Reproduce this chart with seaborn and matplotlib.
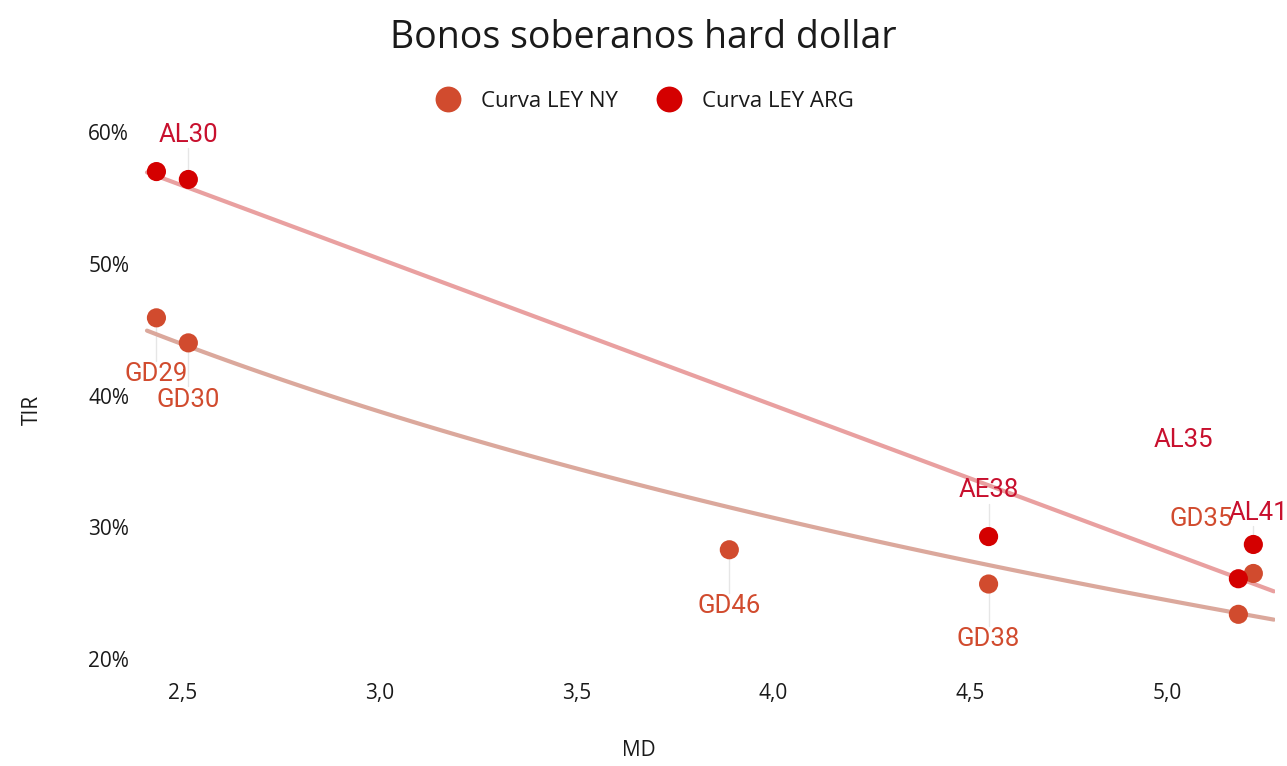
import numpy as np
import pandas as pd
import matplotlib
matplotlib.use("Agg")
import matplotlib.pyplot as plt
import seaborn as sns

# datos
ny_bonos = ["GD29", "GD30", "GD46", "GD38", "GD41", "GD35"]
ny_md = [2.434, 2.515, 3.888, 4.546, 5.180, 5.218]
ny_tir = [45.9, 44.0, 28.3, 25.7, 23.4, 26.5]

arg_bonos = ["AL29", "AL30", "AE38", "AL35", "AL41"]
arg_md = [2.434, 2.515, 4.546, 5.180, 5.218]
arg_tir = [57.0, 56.4, 29.3, 26.1, 28.7]

x_ticks = [2.5, 3.0, 3.5, 4.0, 4.5, 5.0]
y_ticks = [20, 30, 40, 50, 60]

c_ny = "#d14b2e"
c_arg = "#d40000"

df = pd.concat([
    pd.DataFrame({"Bono": ny_bonos, "MD": ny_md, "TIR": ny_tir, "Curva": "Curva LEY NY"}),
    pd.DataFrame({"Bono": arg_bonos, "MD": arg_md, "TIR": arg_tir, "Curva": "Curva LEY ARG"}),
], ignore_index=True)

sns.set_style("white")
plt.rcParams["font.family"] = ["Open Sans", "DejaVu Sans"]
plt.rcParams["text.color"] = "#1a1a1a"

fig = plt.figure(figsize=(12.87, 7.66), dpi=100)
ax = fig.add_axes([0.109, 0.112, 0.882, 0.738])
ax.set_xlim(2.41, 5.27)

# curvas de ajuste: lineal para ARG, logaritmica para NY
sns.regplot(data=df[df["Curva"] == "Curva LEY ARG"], x="MD", y="TIR", ci=None,
            scatter=False, truncate=False, ax=ax,
            line_kws={"color": "#e9a0a0", "lw": 3, "zorder": 1})
sns.regplot(data=df[df["Curva"] == "Curva LEY NY"], x="MD", y="TIR", logx=True, ci=None,
            scatter=False, truncate=False, ax=ax,
            line_kws={"color": "#dba89c", "lw": 3, "zorder": 1})

sns.scatterplot(data=df, x="MD", y="TIR", hue="Curva",
                palette={"Curva LEY NY": c_ny, "Curva LEY ARG": c_arg},
                s=190, edgecolor="none", ax=ax, zorder=3)

# etiquetas (posicion en unidades de datos)
label_pos = {
    "GD29": (2.434, 41.6), "GD30": (2.515, 39.7), "GD46": (3.888, 24.0),
    "GD38": (4.546, 21.5), "GD35": (5.085, 30.6), "GD41": None,
    "AL29": None, "AL30": (2.515, 59.8), "AE38": (4.546, 32.8),
    "AL35": (5.04, 36.6), "AL41": (5.232, 31.1),
}
for _, r in df.iterrows():
    pos = label_pos.get(r["Bono"])
    if pos is None:
        continue
    col = "#c8102e" if r["Curva"] == "Curva LEY ARG" else c_ny
    if abs(pos[0] - r["MD"]) < 0.02:
        y_end = pos[1] + (1.0 if pos[1] < r["TIR"] else -1.0)
        ax.plot([r["MD"], r["MD"]], [r["TIR"], y_end], color="#e6e6e6", lw=1, zorder=0)
    ax.text(pos[0], pos[1], r["Bono"], color=col, fontsize=18.5, ha="center", va="center",
            family=["Roboto", "DejaVu Sans"], zorder=4)

ax.set_xlim(2.393, 5.274)
ax.set_ylim(18.4, 61.3)
ax.set_xticks(x_ticks)
ax.set_xticklabels([f"{v:.1f}".replace(".", ",") for v in x_ticks], fontsize=15, color="#1a1a1a")
ax.set_yticks(y_ticks)
ax.set_yticklabels([f"{v}%" for v in y_ticks], fontsize=15, color="#1a1a1a")
ax.tick_params(axis="y", length=0, pad=8)
ax.tick_params(axis="x", length=0, pad=2)
sns.despine(ax=ax, left=True, bottom=True)
ax.set_xlabel("MD", fontsize=15, color="#1a1a1a")
ax.set_ylabel("TIR", fontsize=15, color="#1a1a1a")
ax.xaxis.set_label_coords(0.439, -0.105)
ax.yaxis.set_label_coords(-0.0855, 0.478)

handles, labels = ax.get_legend_handles_labels()
ax.legend(handles, labels, loc="lower center", bbox_to_anchor=(0.44, 0.99), ncol=2,
          frameon=False, fontsize=16, markerscale=1.35, handletextpad=0.5, columnspacing=1.3,
          borderaxespad=0)

fig.suptitle("Bonos soberanos hard dollar", fontsize=27, x=0.5, y=0.975)

fig.savefig("out.png", dpi=100)
